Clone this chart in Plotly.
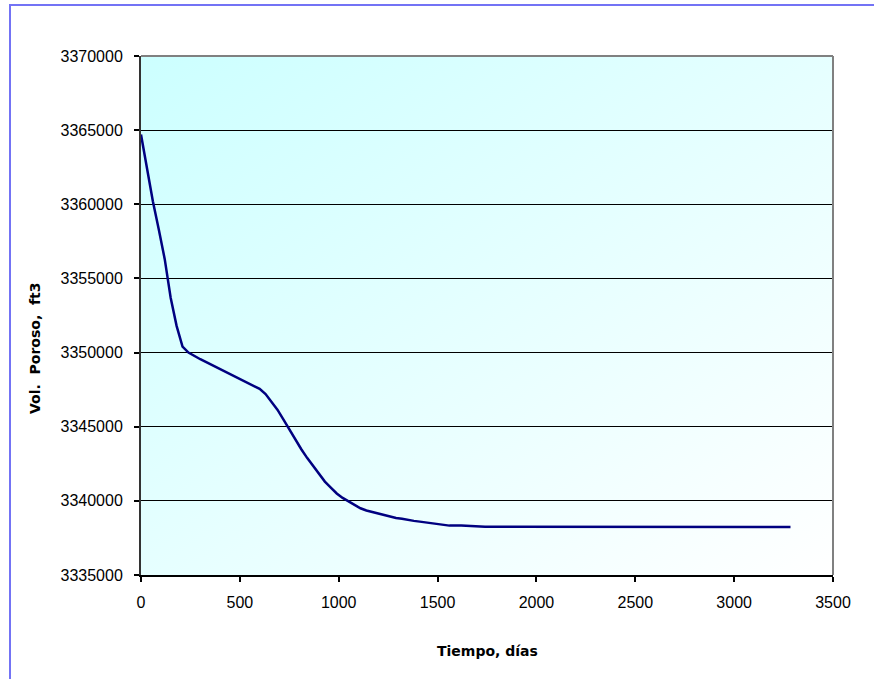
import base64
import plotly.graph_objects as go

# Data
dias = [0, 30, 60, 90, 120, 150, 180, 210, 240, 300, 360, 420, 480, 540, 600,
        630, 660, 690, 720, 750, 780, 810, 840, 870, 900, 930, 960, 990, 1020,
        1050, 1080, 1110, 1140, 1170, 1200, 1230, 1260, 1290, 1320, 1350, 1380,
        1410, 1440, 1470, 1500, 1530, 1560, 1620, 1680, 1740, 3285]
vol_poroso = [3364700, 3362500, 3360200, 3358300, 3356300, 3353700, 3351800,
              3350400, 3350000, 3349550, 3349150, 3348750, 3348350, 3347950,
              3347550, 3347200, 3346700, 3346150, 3345500, 3344800, 3344100,
              3343500, 3342900, 3342350, 3341800, 3341300, 3340900, 3340500,
              3340200, 3339950, 3339750, 3339500, 3339350, 3339250, 3339100,
              3339000, 3338900, 3338850, 3338800, 3338700, 3338650, 3338600,
              3338550, 3338500, 3338450, 3338400, 3338330, 3338330, 3338300,
              3338250, 3338230]

x_ticks = [0, 500, 1000, 1500, 2000, 2500, 3000, 3500]
y_ticks = [3335000, 3340000, 3345000, 3350000, 3355000, 3360000, 3365000, 3370000]

# Diagonal gradient background (cyan top-left to white bottom-right)
svg = ('<svg xmlns="http://www.w3.org/2000/svg" width="100" height="100" preserveAspectRatio="none">'
       '<defs><linearGradient id="g" x1="0" y1="0" x2="1" y2="1">'
       '<stop offset="0" stop-color="#CCFFFF"/><stop offset="1" stop-color="#FFFFFF"/>'
       '</linearGradient></defs><rect width="100" height="100" fill="url(#g)"/></svg>')
bg_src = "data:image/svg+xml;base64," + base64.b64encode(svg.encode()).decode()

fig = go.Figure()
fig.add_trace(go.Scatter(x=dias, y=vol_poroso, mode="lines",
                         line=dict(color="#000080", width=2.5),
                         showlegend=False, hoverinfo="x+y"))

W, H = 874, 679
L, R, T, B = 141, 41, 56, 104
pw, ph = W - L - R, H - T - B

def px_x(p):
    return (p - L) / pw

def px_y(p):
    return (H - B - p) / ph

tick_font = dict(family="Liberation Sans Narrow, Liberation Sans, Arial", size=16, color="#000000")

fig.update_layout(
    width=W, height=H,
    margin=dict(l=L, r=R, t=T, b=B, pad=0),
    paper_bgcolor="#FFFFFF",
    plot_bgcolor="rgba(0,0,0,0)",
    xaxis=dict(range=[0, 3500], tickvals=x_ticks, ticktext=[str(v) for v in x_ticks],
               showgrid=False, zeroline=False, showline=True, linecolor="#000000", linewidth=2,
               ticks="outside", ticklen=5, tickcolor="#000000", tickwidth=1.5,
               tickfont=tick_font, ticklabelstandoff=7, fixedrange=True),
    yaxis=dict(range=[3335000, 3370000], tickvals=y_ticks, ticktext=[str(v) for v in y_ticks],
               showgrid=True, gridcolor="#000000", gridwidth=1.2, zeroline=False,
               showline=True, linecolor="#333333", linewidth=2,
               ticks="outside", ticklen=5, tickcolor="#000000", tickwidth=1.5,
               tickfont=tick_font, ticklabelstandoff=8, fixedrange=True),
    images=[dict(source=bg_src, xref="paper", yref="paper", x=0, y=1, sizex=1, sizey=1,
                 sizing="stretch", layer="below", xanchor="left", yanchor="top")],
    shapes=[
        # outer chart border (blue)
        dict(type="rect", xref="paper", yref="paper",
             x0=px_x(10), x1=px_x(W + 20), y0=px_y(H + 20), y1=px_y(5),
             line=dict(color="#7373F5", width=2), fillcolor="rgba(0,0,0,0)", layer="below"),
        # plot area top and right border (gray)
        dict(type="line", xref="paper", yref="paper", x0=0, x1=1, y0=1, y1=1,
             line=dict(color="#808080", width=2)),
        dict(type="line", xref="paper", yref="paper", x0=1, x1=1, y0=0, y1=1,
             line=dict(color="#808080", width=2)),
    ],
    annotations=[
        dict(text="<b>Tiempo, días</b>", xref="paper", yref="paper",
             x=px_x(488), y=px_y(651), showarrow=False,
             font=dict(family="DejaVu Sans", size=14, color="#000000"),
             xanchor="center", yanchor="middle"),
        dict(text="<b>Vol.  Poroso,  ft3</b>", xref="paper", yref="paper",
             x=px_x(35), y=px_y(348), showarrow=False, textangle=-90,
             font=dict(family="DejaVu Sans", size=14, color="#000000"),
             xanchor="center", yanchor="middle"),
    ],
)

fig.write_html("out.html")
